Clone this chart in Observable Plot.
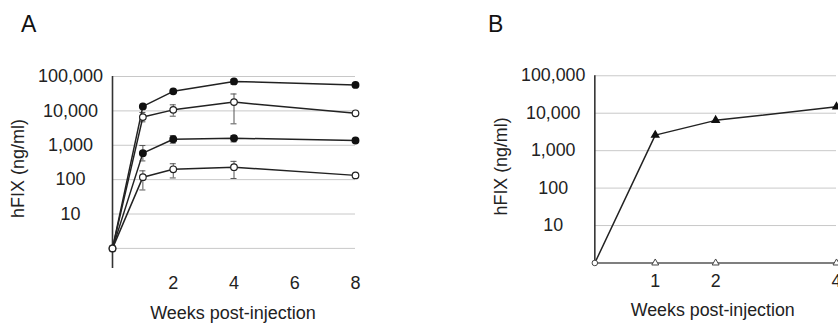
<!DOCTYPE html>
<html>
<head>
<meta charset="utf-8">
<script src="https://cdn.jsdelivr.net/npm/d3@7"></script>
<script src="https://cdn.jsdelivr.net/npm/@observablehq/plot@0.6"></script>
<style>
  html, body { margin: 0; padding: 0; background: #fff; overflow: hidden; }
  #wrap { position: relative; width: 838px; height: 323px; overflow: hidden; font-family: "Liberation Sans", Arial, Helvetica, sans-serif; }
  .panel { position: absolute; top: 0; }
  .tag { position: absolute; top: 13px; font-size: 23px; line-height: 1; color: #111; }
</style>
</head>
<body>
<div id="wrap">
  <div id="pa" class="panel" style="left:0px"></div>
  <div id="pb" class="panel" style="left:420px"></div>
  <div class="tag" style="left:21px">A</div>
  <div class="tag" style="left:488px">B</div>
</div>
<script>
// ---------- Panel A data ----------
const weeksA = [0, 1, 2, 4, 8];
const seriesA1 = [1, 13500, 37000, 72000, 57000];   // filled circles
const seriesA2 = [1, 6600, 10700, 18000, 8500];     // open circles
const seriesA3 = [1, 590, 1500, 1600, 1380];        // filled circles
const seriesA4 = [1, 118, 200, 230, 133];           // open circles
// error bars (low / high) per week, null = none
const errLowA2 = [null, 4800, 7000, 4200, null];
const errHighA2 = [null, 9000, 15000, 31000, null];
const errLowA3 = [null, 350, 1150, 1250, null];
const errHighA3 = [null, 980, 1900, 1900, null];
const errLowA4 = [null, 50, 112, 108, null];
const errHighA4 = [null, 180, 290, 340, null];
const errLowA1 = [null, null, null, 60000, null];
const errHighA1 = [null, null, null, 82000, null];
const xTicksA = [2, 4, 6, 8];

// ---------- Panel B data ----------
const weeksB = [0, 1, 2, 4];
const seriesB1 = [1, 2600, 6450, 14800];  // filled triangles
const seriesB2 = [1, 1, 1, 1];            // open triangles (below detection)
const xTicksB = [1, 2, 4];

// ---------- shared ----------
const yTicks = [10, 100, 1000, 10000, 100000];
const gridValues = [1, 10, 100, 1000, 10000, 100000];
const yLabel = "hFIX (ng/ml)";
const xLabel = "Weeks post-injection";

const fmt = d3.format(",");
const intFmt = d => String(d);
const font = "'Liberation Sans', Arial, Helvetica, sans-serif";

function rows(weeks, values, name, filled) {
  return weeks.map((w, i) => ({week: w, value: values[i], series: name, filled}));
}
function errRows(weeks, lows, highs) {
  return weeks.map((w, i) => ({week: w, low: lows[i], high: highs[i]})).filter(d => d.low != null);
}

const dataA = [
  ...rows(weeksA, seriesA1, "A1", true),
  ...rows(weeksA, seriesA2, "A2", false),
  ...rows(weeksA, seriesA3, "A3", true),
  ...rows(weeksA, seriesA4, "A4", false)
];
const errA = [
  ...errRows(weeksA, errLowA1, errHighA1),
  ...errRows(weeksA, errLowA2, errHighA2),
  ...errRows(weeksA, errLowA3, errHighA3),
  ...errRows(weeksA, errLowA4, errHighA4)
];
const capsA = errA.flatMap(d => [{week: d.week, v: d.low}, {week: d.week, v: d.high}]);

const plotA = Plot.plot({
  width: 420, height: 323,
  marginLeft: 112, marginRight: 65, marginTop: 76, marginBottom: 55,
  x: {domain: [0, 8]},
  y: {type: "log", domain: [0.26, 100000]},
  style: {fontFamily: font, fontSize: "18px", color: "#222", background: "white", overflow: "visible"},
  marks: [
    Plot.ruleY(gridValues, {stroke: "#c8c8c8", strokeWidth: 1}),
    Plot.ruleX([0], {stroke: "#333", strokeWidth: 1.6}),
    Plot.axisX({ticks: xTicksA, tickFormat: intFmt, tickSize: 0, tickPadding: 8, label: null, fontSize: 18}),
    Plot.axisY({ticks: yTicks, tickFormat: fmt, tickSize: 0, tickPadding: 42, textAnchor: "middle", label: null, fontSize: 18}),
    Plot.ruleX(errA, {x: "week", y1: "low", y2: "high", stroke: "#555", strokeWidth: 1}),
    Plot.ruleY(capsA, {y: "v", x1: "week", x2: "week", insetLeft: -3, insetRight: -3, stroke: "#555", strokeWidth: 1}),
    Plot.line(dataA, {x: "week", y: "value", z: "series", stroke: "#222", strokeWidth: 1.5}),
    Plot.dot(dataA.filter(d => d.filled && d.week > 0), {x: "week", y: "value", r: 3.2, fill: "#111", stroke: "#111"}),
    Plot.dot(dataA.filter(d => !d.filled), {x: "week", y: "value", r: 3.3, fill: "white", stroke: "#222", strokeWidth: 1.2}),
    Plot.text([yLabel], {frameAnchor: "left", textAnchor: "middle", lineAnchor: "middle", rotate: -90, dx: -94, dy: -4, fontSize: 18, fill: "#222"}),
    Plot.text([xLabel], {frameAnchor: "bottom", textAnchor: "middle", lineAnchor: "middle", dy: 45, dx: -1, fontSize: 18, fill: "#222"})
  ]
});
document.getElementById("pa").appendChild(plotA);

const dataB = [
  ...rows(weeksB, seriesB1, "B1", true),
  ...rows(weeksB, seriesB2, "B2", false)
];

const plotB = Plot.plot({
  width: 422, height: 323,
  marginLeft: 176, marginRight: 2, marginTop: 76, marginBottom: 58,
  x: {domain: [0, 4]},
  y: {type: "log", domain: [1, 100000]},
  style: {fontFamily: font, fontSize: "18px", color: "#222", background: "white", overflow: "visible"},
  marks: [
    Plot.ruleY(yTicks, {stroke: "#c8c8c8", strokeWidth: 1}),
    Plot.ruleY([1], {stroke: "#555", strokeWidth: 1.6}),
    Plot.ruleX([0], {stroke: "#333", strokeWidth: 1.6}),
    Plot.axisX({ticks: xTicksB, tickFormat: intFmt, tickSize: 0, tickPadding: 11, label: null, fontSize: 18}),
    Plot.axisY({ticks: yTicks, tickFormat: fmt, tickSize: 0, tickPadding: 42, textAnchor: "middle", label: null, fontSize: 18}),
    Plot.line(dataB.filter(d => d.series === "B1"), {x: "week", y: "value", stroke: "#222", strokeWidth: 1.5}),
    Plot.dot(dataB.filter(d => d.filled && d.week > 0), {x: "week", y: "value", r: 2.6, symbol: "triangle", fill: "#111", stroke: "#111"}),
    Plot.dot(dataB.filter(d => !d.filled && d.week > 0), {x: "week", y: "value", r: 2.6, symbol: "triangle", fill: "white", stroke: "#444", strokeWidth: 1}),
    Plot.dot(dataB.filter(d => d.week === 0 && d.series === "B2"), {x: "week", y: "value", r: 2.8, fill: "white", stroke: "#444", strokeWidth: 1}),
    Plot.text([yLabel], {frameAnchor: "left", textAnchor: "middle", lineAnchor: "middle", rotate: -90, dx: -94, dy: -3, fontSize: 18, fill: "#222"}),
    Plot.text([xLabel], {frameAnchor: "bottom", textAnchor: "middle", lineAnchor: "middle", dy: 48, dx: -3, fontSize: 18, fill: "#222"})
  ]
});
document.getElementById("pb").appendChild(plotB);
</script>
</body>
</html>
